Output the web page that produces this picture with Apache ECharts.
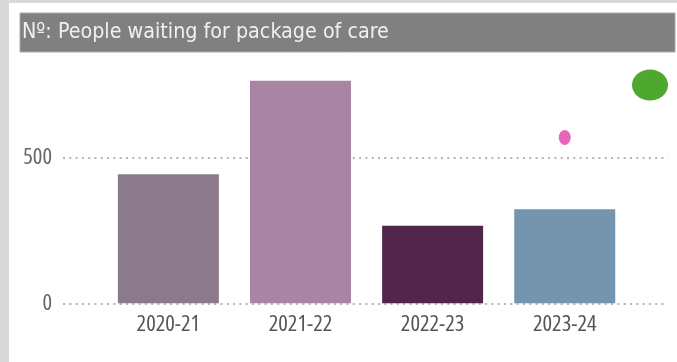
<!DOCTYPE html>
<html>
<head>
<meta charset="utf-8">
<script src="https://cdn.jsdelivr.net/npm/echarts@6/dist/echarts.min.js"></script>
<style>
  html, body { margin: 0; padding: 0; background: #ffffff; }
  #chart { width: 677px; height: 362px; }
</style>
</head>
<body>
<div id="chart"></div>
<script>
// Financial years shown on the x axis
const categories = ['2020-21', '2021-22', '2022-23', '2023-24'];
// Number of people waiting for a package of care
const waiting = [442, 762, 266, 322];
// Comparison marker (latest year only)
const comparison = [null, null, null, 568];
// Bar colour per year
const barColors = ['#8b7a8a', '#a885a2', '#52264a', '#7594ae'];
// Value axis settings
const yMax = 800;
const yStep = 500;

const FAMILY = '"Open Sans", sans-serif';

const chart = echarts.init(document.getElementById('chart'), null, { renderer: 'canvas' });

chart.setOption({
  animation: false,
  backgroundColor: '#ffffff',
  grid: [
    // wide grid: dotted reference lines and value labels
    { left: 63, right: 9, top: 69.7, bottom: 58.7 },
    // inner grid: bars and marker
    { left: 102.3, right: 46.2, top: 69.7, bottom: 58.7 }
  ],
  xAxis: [
    { type: 'category', gridIndex: 0, data: categories, show: false },
    {
      type: 'category', gridIndex: 1, data: categories,
      axisLine: { show: false }, axisTick: { show: false },
      axisLabel: { color: '#555555', fontFamily: FAMILY, fontStyle: 'condensed', fontSize: 22.5, margin: 10 }
    }
  ],
  yAxis: [
    {
      type: 'value', gridIndex: 0, min: 0, max: yMax, interval: yStep,
      axisLine: { show: false }, axisTick: { show: false },
      axisLabel: { color: '#666666', fontFamily: FAMILY, fontStyle: 'condensed', fontSize: 22.5, margin: 11, showMaxLabel: false },
      splitLine: { show: true, showMaxLine: false, lineStyle: { color: '#b4b4b4', width: 2, type: [2, 4.3] } }
    },
    {
      type: 'value', gridIndex: 1, min: 0, max: yMax, interval: yStep,
      show: false, splitLine: { show: false }
    }
  ],
  series: [
    {
      type: 'bar', xAxisIndex: 1, yAxisIndex: 1, barWidth: 101,
      data: waiting.map((v, i) => ({ value: v, itemStyle: { color: barColors[i] } })),
      z: 3
    },
    {
      type: 'scatter', xAxisIndex: 1, yAxisIndex: 1,
      symbol: 'circle', symbolSize: [12, 15],
      itemStyle: { color: '#e040a6' },
      data: comparison, z: 4
    }
  ],
  graphic: [
    // grey frame strips
    { type: 'rect', shape: { x: 0, y: 0, width: 677, height: 3 }, style: { fill: '#d9d9d9' }, silent: true },
    { type: 'rect', shape: { x: 0, y: 0, width: 9, height: 362 }, style: { fill: '#d9d9d9' }, silent: true },
    // title bar
    { type: 'rect', shape: { x: 20, y: 13, width: 655, height: 39 },
      style: { fill: '#808080', stroke: '#a8a8a8', lineWidth: 1 }, silent: true },
    { type: 'text', x: 22, y: 32,
      style: { text: 'Nº: People waiting for package of care', fill: '#f0f0f0',
               font: '21.3px "DejaVu Sans Condensed"', textVerticalAlign: 'middle' }, silent: true },
    // status indicator
    { type: 'circle', x: 650, y: 85, scaleX: 18 / 15.5,
      shape: { cx: 0, cy: 0, r: 15.5 }, style: { fill: '#4ea72e' }, silent: true }
  ]
});
</script>
</body>
</html>
